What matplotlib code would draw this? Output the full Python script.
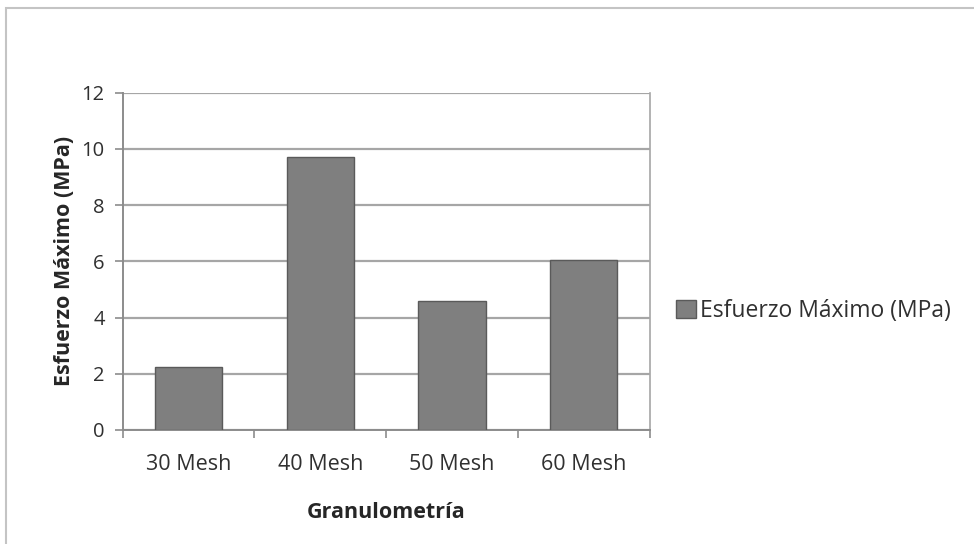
import matplotlib.pyplot as plt
from matplotlib.patches import Rectangle

categories = ["30 Mesh", "40 Mesh", "50 Mesh", "60 Mesh"]
esfuerzo = [2.25, 9.72, 4.6, 6.05]
yticks = [0, 2, 4, 6, 8, 10, 12]

plt.rcParams['font.family'] = ['Open Sans', 'DejaVu Sans']

fig = plt.figure(figsize=(9.74, 5.44), dpi=100)
ax = fig.add_axes([0.126, 0.2096, 0.541, 0.620])

# outer chart border
fig.patches.append(Rectangle((6 / 974, -0.1), 1.2, (536 / 544) + 0.1,
                             transform=fig.transFigure, fill=False,
                             edgecolor="#c4c4c4", linewidth=1.5))

x = range(len(categories))
ax.bar(x, esfuerzo, width=0.51, color="#7f7f7f", edgecolor="#5a5a5a",
       linewidth=1, zorder=3, label="Esfuerzo Máximo (MPa)")

ax.set_xlim(-0.5, len(categories) - 0.5)
ax.set_ylim(0, 12)
ax.set_yticks(yticks)
ax.yaxis.grid(True, color="#a6a6a6", linewidth=1.6, zorder=0)
ax.set_axisbelow(True)

ax.set_xticks([i - 0.5 for i in range(len(categories) + 1)], minor=False)
ax.set_xticklabels([])
ax.set_xticks(list(x), minor=True)
ax.set_xticklabels(categories, minor=True, fontsize=15.5, color="#303030")
ax.tick_params(axis="x", which="minor", length=0, pad=17)
ax.tick_params(axis="x", which="major", length=6, width=1.2, color="#8c8c8c")
ax.tick_params(axis="y", length=6, width=1.2, color="#8c8c8c",
               labelsize=14.5, labelcolor="#303030", pad=7)

for side in ["top", "right"]:
    ax.spines[side].set_color("#a6a6a6")
    ax.spines[side].set_linewidth(1.2)
for side in ["left", "bottom"]:
    ax.spines[side].set_color("#8c8c8c")
    ax.spines[side].set_linewidth(1.4)
ax.spines["top"].set_visible(False)

ax.set_ylabel("Esfuerzo Máximo (MPa)", fontsize=15.5, fontweight="bold",
              color="#262626", labelpad=5)
ax.set_xlabel("Granulometría", fontsize=15.5, fontweight="bold",
              color="#262626", labelpad=20)

ax.legend(loc="center left", bbox_to_anchor=(1.033, 0.352), frameon=False,
          fontsize=16.5, handlelength=0.85, handleheight=0.85,
          handletextpad=0.2, labelcolor="#303030", borderaxespad=0)

fig.savefig("out.png", dpi=100)
